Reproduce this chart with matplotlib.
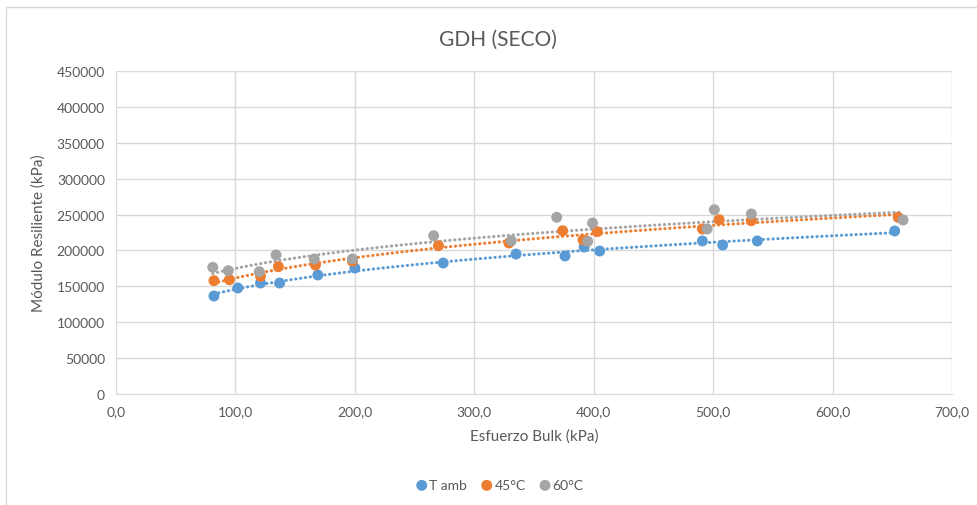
import matplotlib.pyplot as plt
import numpy as np
from matplotlib.patches import Rectangle

plt.rcParams['font.family'] = ['Lato', 'DejaVu Sans']

# Esfuerzo Bulk (kPa) / Modulo Resiliente (kPa)
x_tamb = [82, 102, 121, 137, 169, 200, 274, 335, 376, 392, 405, 491, 508, 537, 652]
y_tamb = [136500, 147700, 154600, 154600, 165800, 175500, 182500, 195000, 192300,
          204800, 199200, 213200, 207600, 213200, 227100]

x_45 = [82, 95, 121, 136, 167, 198, 270, 329, 374, 391, 403, 491, 505, 532, 655]
y_45 = [157900, 159200, 164000, 177400, 179700, 184900, 206600, 210400, 227500,
        214600, 226100, 229900, 242900, 241400, 246100]

x_60 = [81, 94, 120, 134, 166, 198, 266, 331, 369, 399, 395, 495, 501, 532, 659]
y_60 = [176500, 171800, 170400, 193700, 188100, 188100, 220500, 213600, 246200,
        238200, 212700, 229900, 256800, 250800, 242400]

series = [
    ("T amb", x_tamb, y_tamb, "#5B9BD5"),
    ("45°C", x_45, y_45, "#ED7D31"),
    ("60°C", x_60, y_60, "#A5A5A5"),
]

W, H = 977, 506
fig = plt.figure(figsize=(W / 100, H / 100), dpi=100)
ax = fig.add_axes([116 / W, 1 - 395 / H, (952 - 116) / W, (395 - 72) / H])

# chart border like the Excel frame
fig.patches.append(Rectangle((6 / W, -0.05), (W - 2) / W, 1.05 - 8 / H,
                             transform=fig.transFigure, fill=False,
                             edgecolor="#D9D9D9", linewidth=1))

handles = []
for name, xs, ys, col in series:
    xs = np.array(xs, dtype=float)
    ys = np.array(ys, dtype=float)
    # power trendline (Excel "potencial")
    b, a = np.polyfit(np.log(xs), np.log(ys), 1)
    xx = np.linspace(xs.min(), xs.max(), 200)
    ax.plot(xx, np.exp(a) * xx ** b, color=col, linewidth=2.2,
            linestyle=(0, (0.1, 1.5)), dash_capstyle="round", zorder=2)
    h = ax.scatter(xs, ys, s=62, color=col, edgecolors="none", zorder=3, label=name)
    handles.append(h)

ax.set_xlim(0, 700)
ax.set_ylim(0, 450000)
ax.set_xticks(np.arange(0, 701, 100))
ax.set_xticklabels([f"{v:.1f}".replace(".", ",") for v in np.arange(0, 701, 100)])
ax.set_yticks(np.arange(0, 450001, 50000))
ax.set_yticklabels([str(v) for v in range(0, 450001, 50000)])

ax.grid(True, color="#D9D9D9", linewidth=1)
ax.set_axisbelow(True)
for side in ["top", "right", "left"]:
    ax.spines[side].set_visible(False)
ax.spines["bottom"].set_color("#D9D9D9")
ax.tick_params(length=0, labelsize=10, colors="#595959", pad=8)

fig.text(498 / W, 1 - 40 / H, "GDH (SECO)", fontsize=15, color="#595959",
         ha="center", va="center")
ax.set_xlabel("Esfuerzo Bulk (kPa)", fontsize=11, color="#595959", labelpad=8)
ax.set_ylabel("Módulo Resiliente (kPa)", fontsize=11, color="#595959", labelpad=8)

fig.legend(handles=handles, loc="center", bbox_to_anchor=(500 / W, 1 - 486 / H),
           ncol=3, frameon=False, fontsize=10, labelcolor="#595959",
           handlelength=0.8, handletextpad=0.15, columnspacing=1.0, markerscale=1.0)

fig.savefig("out.png", dpi=100)
